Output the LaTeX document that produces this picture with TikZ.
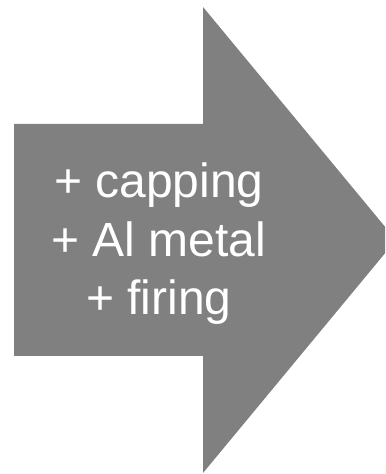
\documentclass[tikz,border=0pt]{standalone}
\usepackage{fontspec}
\setmainfont{Liberation Sans}
\definecolor{arrowgray}{HTML}{808080}
\tikzset{
  lbl/.style={anchor=base, text=white, inner sep=0pt, font=\fontsize{48bp}{58bp}\selectfont}
}
\begin{document}
\begin{tikzpicture}[x=1bp,y=1bp]
\useasboundingbox (0,0) rectangle (385,474);
\clip (0,0) rectangle (385,474);
\fill[arrowgray] (14,118) -- (14,350) -- (203,350) -- (203,467) -- (396,234) -- (203,1) -- (203,118) -- cycle;
\node[lbl] (l1) at (159,276) {+ capping};
\node[lbl] (l2) at (159,217) {+ Al metal};
\node[lbl] (l3) at (159,159) {+ firing};
\end{tikzpicture}
\end{document}
